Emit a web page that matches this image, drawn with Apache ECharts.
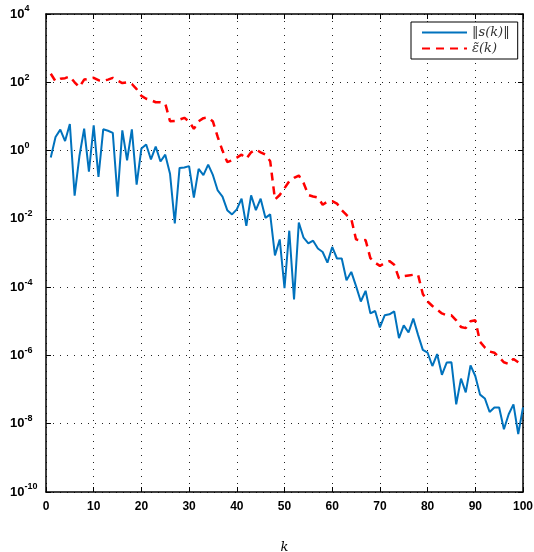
<!DOCTYPE html>
<html>
<head>
<meta charset="utf-8">
<script src="https://cdn.jsdelivr.net/npm/echarts@6/dist/echarts.min.js"></script>
<style>
  html, body { margin: 0; padding: 0; background: #fff; }
  #main { width: 534px; height: 552px; }
</style>
</head>
<body>
<div id="main"></div>
<script>
// iteration index k
var kValues = [];
for (var i = 1; i <= 100; i++) kValues.push(i);

// ||s(k)||
var sNorm = [
  0.63, 2.5, 4.1, 1.9, 6.0, 0.048, 0.68, 4.4, 0.24, 5.5,
  0.17, 4.2, 3.8, 3.3, 0.045, 3.9, 0.52, 4.2, 0.10, 1.15,
  1.5, 0.55, 1.3, 0.48, 0.76, 0.21, 0.0074, 0.31, 0.32, 0.35,
  0.042, 0.29, 0.19, 0.39, 0.19, 0.068, 0.045, 0.018, 0.0135, 0.019,
  0.039, 0.0062, 0.049, 0.018, 0.039, 0.0107, 0.0135, 8.5e-4, 2.5e-3, 9.3e-5,
  4.5e-3, 4.4e-5, 7.8e-3, 2.8e-3, 1.9e-3, 2.3e-3, 1.35e-3, 1.07e-3, 5.2e-4, 1.5e-3,
  6.9e-4, 6.9e-4, 1.6e-4, 2.8e-4, 1.07e-4, 3.8e-5, 7.8e-5, 1.7e-5, 2.0e-5, 6.6e-6,
  1.5e-5, 1.6e-5, 1.95e-5, 3.2e-6, 7.6e-6, 4.7e-6, 1.2e-5, 4.0e-6, 1.45e-6, 1.2e-6,
  4.9e-7, 1.1e-6, 2.7e-7, 6.2e-7, 6.3e-7, 3.7e-8, 2.1e-7, 8.3e-8, 5.1e-7, 2.5e-7,
  7.1e-8, 5.5e-8, 2.2e-8, 3.0e-8, 3.0e-8, 6.9e-9, 1.9e-8, 3.7e-8, 5.0e-9, 3.0e-8
];

// eps~(k)
var epsBound = [
  178, 107, 126, 132, 148, 100, 72, 120, 126, 135,
  115, 110, 120, 135, 112, 95, 100, 89, 63, 40,
  33, 30, 26, 26, 24, 7.2, 7.4, 8.1, 9.1, 7.1,
  4.3, 7.2, 8.9, 9.3, 7.1, 2.5, 1.0, 0.46, 0.52, 0.62,
  0.76, 0.58, 0.89, 1.07, 0.89, 0.76, 0.49, 0.037, 0.05, 0.079,
  0.126, 0.158, 0.186, 0.112, 0.05, 0.045, 0.042, 0.026, 0.032, 0.033,
  0.028, 0.018, 0.013, 0.010, 0.0025, 0.0023, 0.0024, 7.1e-4, 5.2e-4, 4.2e-4,
  5.0e-4, 5.8e-4, 4.5e-4, 1.8e-4, 2.1e-4, 2.2e-4, 2.3e-4, 2.3e-4, 6.3e-5, 3.8e-5,
  2.8e-5, 2.2e-5, 1.7e-5, 1.5e-5, 1.5e-5, 1.07e-5, 6.8e-6, 6.3e-6, 1.0e-5, 1.07e-5,
  2.5e-6, 1.7e-6, 1.3e-6, 1.2e-6, 8.9e-7, 6.3e-7, 5.6e-7, 7.9e-7, 6.3e-7, 5.0e-7
];

var seriesNames = ['\u2016s(k)\u2016', '\u03b5\u0303(k)'];

function pairs(vals) {
  return kValues.map(function (k, i) { return [k, vals[i]]; });
}

var dotted = { color: '#222', width: 1, type: [1, 6] };
var boxLine = { show: true, onZero: false, lineStyle: { color: '#000', width: 1.5 } };
var inTick = { show: true, inside: true, length: 5, lineStyle: { color: '#000' } };

var chart = echarts.init(document.getElementById('main'));
chart.setOption({
  animation: false,
  backgroundColor: '#fff',
  grid: { left: 46, right: 11, top: 14, bottom: 60, containLabel: false, outerBoundsMode: 'none' },
  legend: {
    left: 411, top: 22,
    orient: 'vertical',
    backgroundColor: '#fff',
    borderColor: '#000', borderWidth: 1, borderRadius: 0,
    padding: [4, 8, 4, 10],
    itemGap: 3,
    itemWidth: 45, itemHeight: 10,
    itemStyle: { opacity: 0 },
    textStyle: { fontFamily: 'DejaVu Serif', fontStyle: 'italic', fontSize: 13, color: '#333' },
    data: seriesNames
  },
  xAxis: [{
    type: 'value', min: 0, max: 100, interval: 10,
    name: 'k', nameLocation: 'middle', nameGap: 49,
    nameTextStyle: { fontFamily: 'DejaVu Serif', fontStyle: 'italic', fontSize: 13, color: '#000' },
    axisLine: boxLine,
    axisTick: inTick,
    axisLabel: { fontFamily: 'Liberation Sans', fontWeight: 'bold', fontSize: 12, color: '#000', margin: 9 },
    splitLine: { show: true, lineStyle: dotted }
  }, {
    type: 'value', min: 0, max: 100, interval: 10, position: 'top',
    axisLine: boxLine,
    axisTick: inTick,
    axisLabel: { show: false },
    splitLine: { show: false }
  }],
  yAxis: [{
    type: 'log', logBase: 10, min: 1e-10, max: 1e4, interval: 2,
    axisLine: boxLine,
    axisTick: inTick,
    axisLabel: {
      margin: 36,
      align: 'left',
      formatter: function (v) {
        var e = Math.round(Math.log10(v));
        return '{b|10}{e|' + e + '}';
      },
      rich: {
        b: { fontFamily: 'Liberation Sans', fontWeight: 'bold', fontSize: 13, color: '#000' },
        e: { fontFamily: 'Liberation Sans', fontWeight: 'bold', fontSize: 9, color: '#000', padding: [0, 0, 10, 0] }
      }
    },
    splitLine: { show: true, lineStyle: dotted }
  }, {
    type: 'log', logBase: 10, min: 1e-10, max: 1e4, interval: 2, position: 'right',
    axisLine: boxLine,
    axisTick: inTick,
    axisLabel: { show: false },
    splitLine: { show: false }
  }],
  series: [{
    name: seriesNames[0],
    type: 'line',
    symbol: 'none',
    data: pairs(sNorm),
    lineStyle: { color: '#0072BD', width: 2 },
    itemStyle: { color: '#0072BD' }
  }, {
    name: seriesNames[1],
    type: 'line',
    symbol: 'none',
    data: pairs(epsBound),
    lineStyle: { color: '#FF0000', width: 2.5, type: [8, 6] },
    itemStyle: { color: '#FF0000' }
  }]
});
</script>
</body>
</html>
